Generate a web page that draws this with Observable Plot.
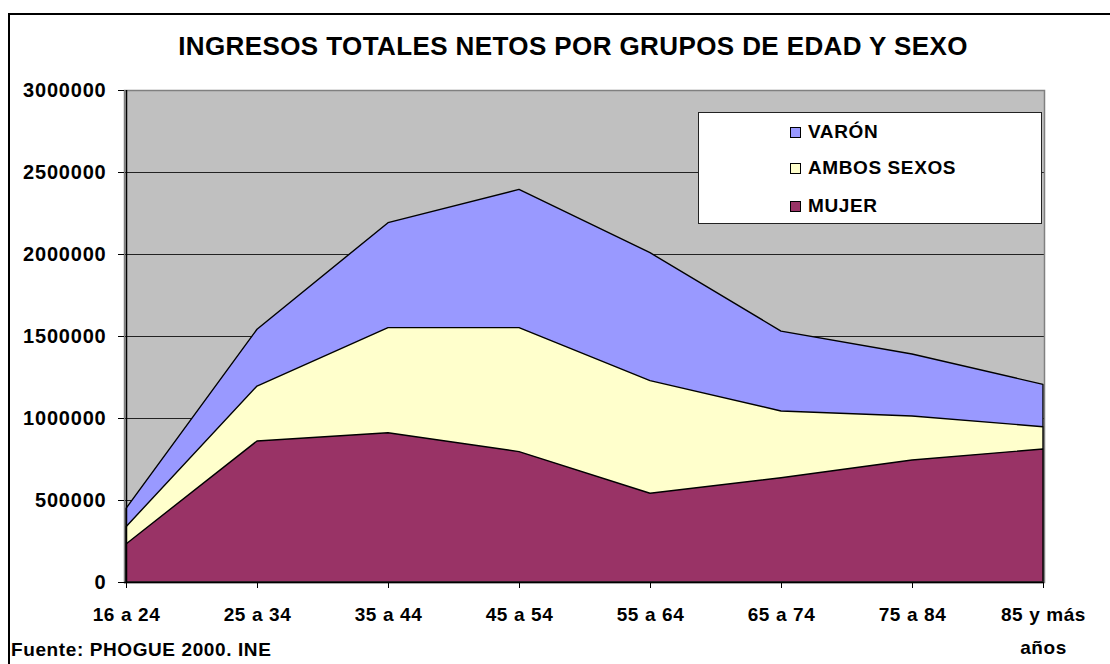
<!DOCTYPE html>
<html>
<head>
<meta charset="utf-8">
<script src="https://cdn.jsdelivr.net/npm/d3@7"></script>
<script src="https://cdn.jsdelivr.net/npm/@observablehq/plot@0.6"></script>
<style>
  html, body { margin: 0; padding: 0; background: #fff; }
  #wrap { position: relative; width: 1110px; height: 664px; overflow: hidden; font-family: "Liberation Sans", Arial, sans-serif; font-weight: bold; color: #000; }
  #wrap svg { position: absolute; left: 0; top: 0; }
  .border { position: absolute; left: 8px; top: 13px; width: 1200px; height: 800px; border-left: 2px solid #000; border-top: 2px solid #000; }
  .title { position: absolute; left: 0; width: 1146px; top: 33px; text-align: center; font-size: 26px; line-height: 26px; letter-spacing: 0.4px; white-space: nowrap; }
  .caption { position: absolute; left: 11px; top: 640px; font-size: 19px; line-height: 19px; letter-spacing: 0.6px; white-space: nowrap; }
  .legend { position: absolute; left: 698px; top: 112px; width: 344px; height: 112px; background: #fff; border: 1px solid #222; box-sizing: border-box; }
  .item { position: absolute; left: 91px; height: 20px; display: flex; align-items: center; font-size: 19px; letter-spacing: 0.6px; white-space: nowrap; }
  .sw { width: 11px; height: 11px; border: 1px solid #000; margin-right: 7px; box-sizing: border-box; }
</style>
</head>
<body>
<div id="wrap">
  <div class="border"></div>
  <div class="title">INGRESOS TOTALES NETOS POR GRUPOS DE EDAD Y SEXO</div>
  <div id="chart"></div>
  <div class="legend" id="legend"></div>
  <div class="caption">Fuente: PHOGUE 2000. INE</div>
</div>
<script>
const categories = ["16 a 24", "25 a 34", "35 a 44", "45 a 54", "55 a 64", "65 a 74", "75 a 84", "85 y más años"];
const tickLabels = ["16 a 24", "25 a 34", "35 a 44", "45 a 54", "55 a 64", "65 a 74", "75 a 84", "85 y más\naños"];
const varon = [449000, 1541000, 2191000, 2394000, 2008000, 1530000, 1390000, 1205000];
const ambos = [337000, 1195000, 1551000, 1551000, 1228000, 1043000, 1012000, 947000];
const mujer = [232000, 860000, 910000, 795000, 541000, 636000, 744000, 811000];
const seriesNames = ["VARÓN", "AMBOS SEXOS", "MUJER"];
const seriesColors = ["#9999FF", "#FFFFCC", "#993366"];
const yTicks = [0, 500000, 1000000, 1500000, 2000000, 2500000, 3000000];

const seriesValues = [varon, ambos, mujer];
const rowsFor = (vals, name) => categories.map((c, i) => ({cat: c, value: vals[i], series: name}));

const marks = [
  Plot.frame({fill: "#C0C0C0", stroke: null}),
  Plot.ruleY(yTicks.slice(1, -1), {stroke: "#222", strokeWidth: 1})
];
seriesValues.forEach((vals, k) => {
  marks.push(Plot.areaY(rowsFor(vals, seriesNames[k]), {x: "cat", y: "value", fill: seriesColors[k], stroke: "#000", strokeWidth: 1.4, strokeLinejoin: "round"}));
});
marks.push(
  Plot.frame({stroke: "#808080", strokeWidth: 1.5}),
  Plot.ruleY([0], {stroke: "#000", strokeWidth: 1.5}),
  Plot.ruleX([categories[0]], {stroke: "#000", strokeWidth: 1.5}),
  Plot.axisY({ticks: yTicks, tickSize: 6, tickPadding: 12, tickFormat: d => String(d), fontSize: 20, fontWeight: "bold", stroke: "#000", label: null}),
  Plot.axisX({tickSize: 6, tickFormat: () => "", stroke: "#000", label: null}),
  Plot.text(categories, {x: d => d, frameAnchor: "bottom", dy: 15, lineAnchor: "top", text: (d, i) => tickLabels[i], lineHeight: 1.74, fontSize: 19, fontWeight: "bold", fill: "#000"})
);

const chart = Plot.plot({
  width: 1110,
  height: 664,
  marginLeft: 124,
  marginRight: 66,
  marginTop: 90,
  marginBottom: 82,
  x: {type: "point", domain: categories, padding: 0, axis: null, label: null},
  y: {domain: [0, 3000000], axis: null, label: null},
  style: {fontFamily: "'Liberation Sans', Arial, sans-serif", fontWeight: "bold", color: "#000", background: "transparent", overflow: "visible"},
  marks
});
document.getElementById("chart").appendChild(chart);

const svg = d3.select(chart);
svg.selectAll("g[aria-label='y-axis tick label'] text").attr("letter-spacing", "0.8px");
svg.selectAll("g[aria-label='text'] text").attr("letter-spacing", "0.6px");

const legend = document.getElementById("legend");
const rowsY = [9, 45, 83];
seriesNames.forEach((name, k) => {
  const it = document.createElement("div");
  it.className = "item";
  it.style.top = rowsY[k] + "px";
  const sw = document.createElement("div");
  sw.className = "sw";
  sw.style.background = seriesColors[k];
  const t = document.createElement("span");
  t.textContent = name;
  it.appendChild(sw);
  it.appendChild(t);
  legend.appendChild(it);
});
</script>
</body>
</html>
